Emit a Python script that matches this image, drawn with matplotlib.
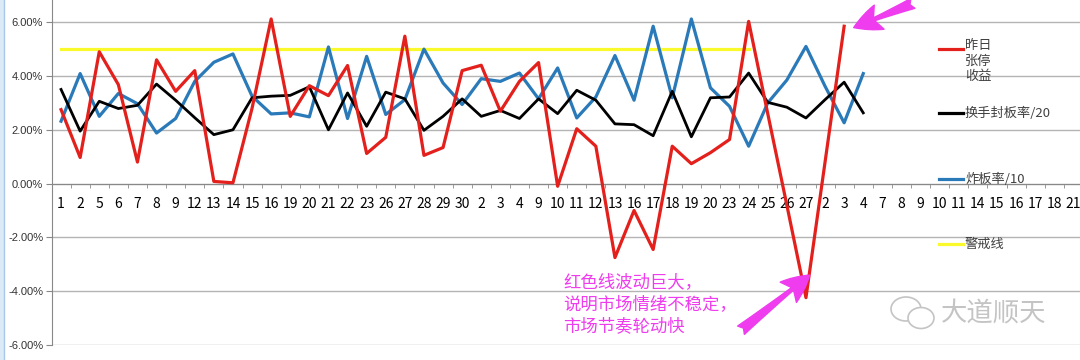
import matplotlib
matplotlib.use("Agg")
import matplotlib.pyplot as plt
from matplotlib.lines import Line2D
from matplotlib.patches import Ellipse, Rectangle

plt.rcParams['font.family'] = ['Noto Sans CJK SC', 'DejaVu Sans']

days = ['1', '2', '5', '6', '7', '8', '9', '12', '13', '14', '15', '16', '19', '20', '21',
        '22', '23', '26', '27', '28', '29', '30', '2', '3', '4', '9', '10', '11', '12', '13',
        '16', '17', '18', '19', '20', '23', '24', '25', '26', '27', '2', '3', '4', '7', '8',
        '9', '10', '11', '14', '15', '16', '17', '18', '21']

# 昨日涨停收益 (%)
zuori = [2.75, 0.97, 4.9, 3.68, 0.8, 4.6, 3.43, 4.2, 0.08, 0.03,
         2.8, 6.12, 2.5, 3.64, 3.27, 4.39, 1.12, 1.72, 5.48, 1.05,
         1.34, 4.2, 4.4, 2.69, 3.8, 4.5, -0.1, 2.04, 1.39, -2.75,
         -1.0, -2.45, 1.39, 0.74, 1.15, 1.64, 6.03, 2.6, -0.8, -4.24,
         0.8, 5.85]
# 换手封板率/20 (%)
fengban = [3.5, 1.95, 3.06, 2.79, 2.91, 3.7, 3.1, 2.45, 1.82, 2.0,
           3.19, 3.25, 3.28, 3.6, 2.0, 3.37, 2.13, 3.4, 3.15, 1.98,
           2.5, 3.15, 2.5, 2.72, 2.42, 3.15, 2.6, 3.47, 3.1, 2.22,
           2.19, 1.78, 3.43, 1.74, 3.19, 3.22, 4.11, 3.02, 2.84, 2.44,
           3.12, 3.77, 2.63]
# 炸板率/10 (%)
zhaban = [2.32, 4.09, 2.5, 3.35, 2.97, 1.88, 2.42, 3.8, 4.51, 4.82,
          3.25, 2.59, 2.63, 2.48, 5.08, 2.42, 4.73, 2.57, 3.12, 5.0,
          3.74, 2.94, 3.9, 3.8, 4.11, 3.15, 4.3, 2.44, 3.22, 4.76,
          3.1, 5.85, 3.19, 6.12, 3.56, 2.87, 1.39, 3.0, 3.85, 5.1,
          3.62, 2.26, 4.09]
# 警戒线 (%)
jingjie = [5.0] * 37

RED = '#e3201c'
BLACK = '#000000'
BLUE = '#2a7ab9'
YELLOW = '#f9f92c'
PINK = '#ee3cee'

W, H = 1080, 360


def fx(p):
    return p / W


def fy(p):
    return 1 - p / H


fig = plt.figure(figsize=(10.8, 3.6), dpi=100)

# spreadsheet edge (behind everything)
fig.add_artist(Rectangle((0, 0), 4 / W, 1, transform=fig.transFigure,
                         facecolor='#dce9f6', edgecolor='none', zorder=-2))
fig.add_artist(Line2D([4 / W, 4 / W], [0, 1], color='#a9c8e6', lw=1, zorder=-2))

ax = fig.add_axes([51.5 / W, 15 / H, 54 * 19.1 / W, 14 * 26.9 / H])
ax.patch.set_alpha(0)

ax.plot(range(len(jingjie)), jingjie, color=YELLOW, lw=2.3, zorder=2)
ax.plot(range(len(zhaban)), zhaban, color=BLUE, lw=2.3, zorder=3)
ax.plot(range(len(fengban)), fengban, color=BLACK, lw=2.0, zorder=4)
ax.plot(range(len(zuori)), zuori, color=RED, lw=2.3, zorder=5)

ax.set_xlim(-0.5, len(days) - 0.5)
ax.set_ylim(-6, 8)

yt = [-6, -4, -2, 0, 2, 4, 6]
ax.set_yticks(yt)
ax.set_yticklabels([f'{v:.2f}%' for v in yt], fontsize=8,
                   color='#333333', family='Liberation Sans')
ax.tick_params(axis='y', length=4, color='#888888', pad=2)
ax.grid(axis='y', color='#b4b4b4', lw=1.0)
ax.set_axisbelow(True)

ax.set_xticks(range(len(days)))
ax.set_xticklabels(days, fontsize=8, color='#222222', family='Liberation Sans')
ax.set_xticks([i - 0.5 for i in range(len(days) + 1)], minor=True)
ax.tick_params(axis='x', which='major', length=0, pad=10)
ax.tick_params(axis='x', which='minor', length=3, color='#888888')

for s in ['top', 'right']:
    ax.spines[s].set_visible(False)
ax.spines['bottom'].set_position(('data', 0))
ax.spines['bottom'].set_color('#888888')
ax.spines['left'].set_color('#888888')

# legend
entries = [(RED, '昨日\n张停\n收益', 49), (BLACK, '换手封板率/20', 113),
           (BLUE, '炸板率/10', 179), (YELLOW, '警戒线', 244)]
for col, lab, yp in entries:
    fig.add_artist(Line2D([fx(939), fx(963)], [fy(yp), fy(yp)], color=col, lw=2.3))
    if '\n' in lab:
        fig.text(fx(965), fy(39), lab, fontsize=9.5, color='#404040', va='top',
                 linespacing=1.25)
    else:
        fig.text(fx(965), fy(yp), lab, fontsize=9.5, color='#404040', va='center')

# annotation
fig.text(fx(563), fy(273), '红色线波动巨大，\n说明市场情绪不稳定，\n市场节奏轮动快',
         fontsize=12.5, color=PINK, va='top', linespacing=1.3)
arrow = dict(arrowstyle='fancy,head_length=0.9,head_width=0.85,tail_width=0.35',
             color=PINK, shrinkA=0, shrinkB=0, mutation_scale=22)
ax.annotate('', xy=(39.2, -3.4), xytext=(35.6, -5.45), arrowprops=arrow, zorder=6)
ax.annotate('', xy=(41.5, 5.8), xytext=(44.6, 6.7), arrowprops=arrow, zorder=6)

# watermark
for cx, cy, w, h in [(906, 309, 30, 24), (921, 318, 26, 21)]:
    fig.add_artist(Ellipse((fx(cx), fy(cy)), w / W, h / H, transform=fig.transFigure,
                           facecolor='white', edgecolor='#c4c4c4', lw=1.2))
fig.text(fx(941), fy(314), '大道顺天', fontsize=19, color='#c4c4c4', va='center')

fig.savefig('out.png', dpi=100)
